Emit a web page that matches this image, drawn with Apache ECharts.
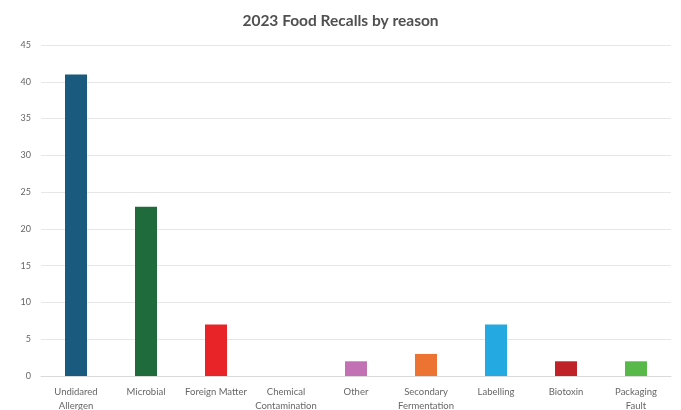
<!DOCTYPE html>
<html><head><meta charset="utf-8">
<script src="https://cdn.jsdelivr.net/npm/echarts@6/dist/echarts.min.js"></script>
<style>html,body{margin:0;padding:0;background:#fff}#c{width:681px;height:410px}</style>
</head><body><div id="c"></div>
<script>
const categories = ["Undidared\nAllergen","Microbial","Foreign Matter","Chemical\nContamination","Other","Secondary\nFermentation","Labelling","Biotoxin","Packaging\nFault"];
const values = [41, 23, 7, 0, 2, 3, 7, 2, 2];
const colors = ["#1b5a7f","#1f6b3b","#e82429","#888888","#c271b4","#ed7332","#25a9e1","#c0222a","#58b84a"];
const yTicks = [0, 5, 10, 15, 20, 25, 30, 35, 40, 45];

const chart = echarts.init(document.getElementById('c'), null, {renderer:'canvas'});
chart.setOption({
  animation:false,
  backgroundColor:'#fff',
  title:{text:'2023 Food Recalls by reason',left:'center',top:8,
    textStyle:{fontFamily:'Lato',fontSize:15.5,fontWeight:'bold',color:'#505050'}},
  grid:{left:41,right:10,top:45,bottom:34,containLabel:false,outerBoundsMode:'none'},
  xAxis:{type:'category',data:categories,
    axisLine:{lineStyle:{color:'#d9d9d9'}},axisTick:{show:false},
    axisLabel:{fontFamily:'Lato',fontSize:9.5,color:'#666',lineHeight:14,interval:0,margin:9}},
  yAxis:{type:'value',min:yTicks[0],max:yTicks[yTicks.length-1],interval:5,
    axisLine:{show:false},axisTick:{show:false},
    splitLine:{lineStyle:{color:'#e6e6e6'}},
    axisLabel:{fontFamily:'Lato',fontSize:9,color:'#666',margin:10}},
  series:[{type:'bar',data:values.map((v,i)=>({value:v,itemStyle:{color:colors[i]}})),
    barWidth:22}]
});
</script></body></html>
